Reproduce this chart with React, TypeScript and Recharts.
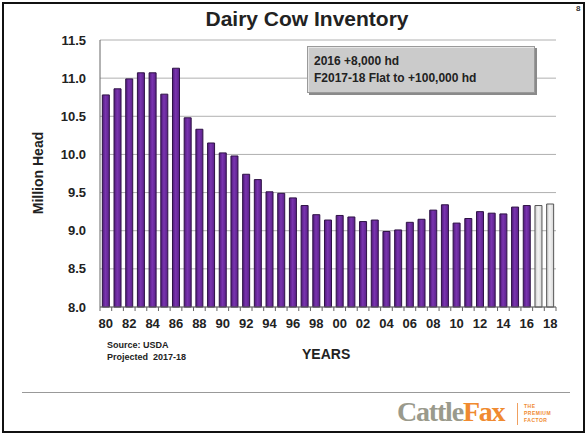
import { BarChart, Bar, XAxis, YAxis, CartesianGrid, Cell } from 'recharts';

const years = [
  '80', '81', '82', '83', '84', '85', '86', '87', '88', '89',
  '90', '91', '92', '93', '94', '95', '96', '97', '98', '99',
  '00', '01', '02', '03', '04', '05', '06', '07', '08', '09',
  '10', '11', '12', '13', '14', '15', '16', '17', '18',
];
const inventory = [
  10.78, 10.86, 10.99, 11.07, 11.07, 10.79, 11.13, 10.48, 10.33, 10.15,
  10.02, 9.98, 9.74, 9.67, 9.51, 9.49, 9.43, 9.33, 9.21, 9.14,
  9.2, 9.18, 9.12, 9.14, 8.99, 9.01, 9.11, 9.15, 9.27, 9.34,
  9.1, 9.16, 9.25, 9.23, 9.22, 9.31, 9.33, 9.33, 9.35,
];
const projectedYears = ['17', '18'];
const yTicks = [8.0, 8.5, 9.0, 9.5, 10.0, 10.5, 11.0, 11.5];

const data = years.map((y, i) => ({
  year: y,
  value: inventory[i],
  projected: projectedYears.includes(y),
}));

const font = '"Liberation Sans", Arial, sans-serif';

// label every other year, small tick mark at each category boundary
function YearTick(props: any) {
  const { x, y, payload, index } = props;
  const half = 456 / years.length / 2;
  return (
    <g>
      <line x1={x - half} x2={x - half} y1={y - 13} y2={y - 9} stroke="#666" />
      {index === years.length - 1 && (
        <line x1={x + half} x2={x + half} y1={y - 13} y2={y - 9} stroke="#666" />
      )}
      {index % 2 === 0 && (
        <text x={x} y={y} dy={8} textAnchor="middle" fontSize={13} fontWeight={700} fill="#222" fontFamily={font}>
          {payload.value}
        </text>
      )}
    </g>
  );
}

export default function App() {
  return (
    <div style={{ position: 'absolute', left: 0, top: 0, width: 587, height: 435, background: '#fff', fontFamily: font }}>
      <div style={{ position: 'absolute', left: 2, top: 2, width: 579, height: 427, border: '2px solid #111' }} />
      <BarChart
        width={587}
        height={435}
        data={data}
        barCategoryGap="20%"
        margin={{ top: 40, right: 31, left: 40, bottom: 98 }}
      >
        <defs>
          <linearGradient id="purpleBar" x1="0" y1="0" x2="1" y2="0">
            <stop offset="0%" stopColor="#4e1a78" />
            <stop offset="45%" stopColor="#7a34b0" />
            <stop offset="100%" stopColor="#5a2088" />
          </linearGradient>
          <linearGradient id="grayBar" x1="0" y1="0" x2="1" y2="0">
            <stop offset="0%" stopColor="#c8c8c8" />
            <stop offset="45%" stopColor="#f4f4f4" />
            <stop offset="100%" stopColor="#d4d4d4" />
          </linearGradient>
        </defs>
        <CartesianGrid vertical={false} stroke="#b0b0b0" />
        <XAxis
          dataKey="year"
          interval={0}
          tickLine={false}
          tickSize={0}
          tickMargin={13}
          axisLine={{ stroke: '#666' }}
          tick={<YearTick />}
        />
        <YAxis
          domain={[8, 11.5]}
          ticks={yTicks}
          width={60}
          tickLine={false}
          tickSize={0}
          tickMargin={14}
          axisLine={{ stroke: '#666' }}
          tickFormatter={(v: number) => v.toFixed(1)}
          tick={{ fontSize: 13, fontWeight: 700, fill: '#222', fontFamily: font }}
        />
        <YAxis
          yAxisId="frame"
          orientation="right"
          domain={[8, 11.5]}
          width={0}
          tick={false}
          tickLine={false}
          axisLine={{ stroke: '#999' }}
        />
        <Bar dataKey="value" stroke="#2e1245" strokeWidth={1} isAnimationActive={false}>
          {data.map((d) => (
            <Cell
              key={d.year}
              fill={d.projected ? 'url(#grayBar)' : 'url(#purpleBar)'}
              stroke={d.projected ? '#555' : '#2e1245'}
            />
          ))}
        </Bar>
      </BarChart>

      <div style={{ position: 'absolute', left: 0, width: 614, top: 7, textAlign: 'center', fontSize: 21, fontWeight: 700, color: '#222' }}>
        Dairy Cow Inventory
      </div>
      <div style={{ position: 'absolute', left: 576, top: 4, fontSize: 8, fontWeight: 700, color: '#333' }}>8</div>
      <div
        style={{
          position: 'absolute', left: 307, top: 46, width: 228, height: 47, background: '#cbcbcb',
          border: '1px solid #9a9a9a', boxShadow: '2px 2px 0 #8a8a8a, inset 1px 1px 0 #e6e6e6',
          fontSize: 12, fontWeight: 700, color: '#222', lineHeight: '17px', padding: '6px 0 0 6px', boxSizing: 'border-box',
        }}
      >
        <div>2016 +8,000 hd</div>
        <div>F2017-18 Flat to +100,000 hd</div>
      </div>
      <div
        style={{
          position: 'absolute', left: 38, top: 173, transform: 'translate(-50%, -50%) rotate(-90deg)',
          fontSize: 14, fontWeight: 700, color: '#222', whiteSpace: 'nowrap',
        }}
      >
        Million Head
      </div>
      <div style={{ position: 'absolute', left: 107, top: 339, fontSize: 9, fontWeight: 700, color: '#222', lineHeight: '12px' }}>
        <div>Source: USDA</div>
        <div>Projected&nbsp;&nbsp;2017-18</div>
      </div>
      <div style={{ position: 'absolute', left: 302, top: 346, fontSize: 14, fontWeight: 700, color: '#222' }}>YEARS</div>
      <div style={{ position: 'absolute', left: 22, top: 392, width: 548, height: 1, background: '#999' }} />
      <div style={{ position: 'absolute', left: 397, top: 396, fontFamily: '"Liberation Serif", serif', fontSize: 28, fontWeight: 700, letterSpacing: -1.2 }}>
        <span style={{ color: '#9a9a8c' }}>Cattle</span>
        <span style={{ color: '#f08a30' }}>Fax</span>
      </div>
      <div style={{ position: 'absolute', left: 517, top: 403, width: 1, height: 22, background: '#f0a060' }} />
      <div style={{ position: 'absolute', left: 524, top: 403, fontSize: 5, fontWeight: 700, color: '#f08a30', lineHeight: '7px', letterSpacing: 0.5 }}>
        <div>THE</div>
        <div>PREMIUM</div>
        <div>FACTOR</div>
      </div>
    </div>
  );
}
